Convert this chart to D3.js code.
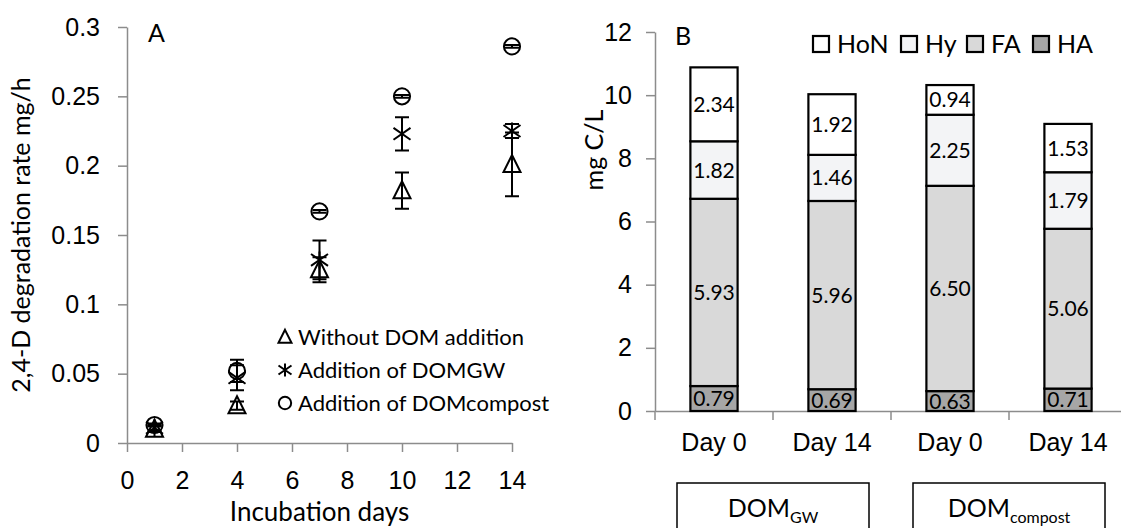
<!DOCTYPE html>
<html>
<head>
<meta charset="utf-8">
<script src="https://cdn.jsdelivr.net/npm/d3@7"></script>
<style>
  body { margin: 0; background: #fff; }
  svg { font-family: Lato, "Open Sans", sans-serif; }
  .axis path, .axis line { stroke: #8c8c8c; stroke-width: 1.5; }
  .axis text { fill: #000; font-size: 25px; }
</style>
</head>
<body>
<div id="chart"></div>
<script>
// panel A: 2,4-D degradation rate
const days = [1, 4, 7, 10, 14];
const rateNone = [0.010, 0.027, 0.125, 0.182, 0.201];
const errNone = [0.002, 0.003, 0.009, 0.013, 0.023];
const rateGW = [0.011, 0.047, 0.132, 0.223, 0.225];
const errGW = [0.002, 0.009, 0.014, 0.012, 0.005];
const rateCompost = [0.013, 0.052, 0.167, 0.250, 0.286];
const errCompost = [0.001, 0.008, 0.001, 0.001, 0.001];
const seriesNames = ["Without DOM addition", "Addition of DOMGW", "Addition of DOMcompost"];
const xTicksA = [0, 2, 4, 6, 8, 10, 12, 14];
const yTicksA = [0, 0.05, 0.1, 0.15, 0.2, 0.25, 0.3];

// panel B: DOM fractions
const barIds = ["gw0", "gw14", "c0", "c14"];
const barLabels = ["Day 0", "Day 14", "Day 0", "Day 14"];
const groups = ["GW", "compost"];
const fractions = ["HoN", "Hy", "FA", "HA"];
const haVals = [0.79, 0.69, 0.63, 0.71];
const faVals = [5.93, 5.96, 6.50, 5.06];
const hyVals = [1.82, 1.46, 2.25, 1.79];
const honVals = [2.34, 1.92, 0.94, 1.53];
const yTicksB = [0, 2, 4, 6, 8, 10, 12];

const W = 1121, H = 528;
const svg = d3.select("#chart").append("svg")
    .attr("width", W)
    .attr("height", H);

// ---------- panel A ----------
var xA = d3.scaleLinear().domain([0, 14]).range([127, 512]);
var yA = d3.scaleLinear().domain([0, 0.3]).range([443, 27]);

svg.append("g")
    .attr("class", "axis")
    .attr("transform", "translate(0," + yA(0) + ")")
    .call(d3.axisBottom(xA).tickValues(xTicksA).tickSize(9).tickSizeOuter(0).tickPadding(19));

svg.append("g")
    .attr("class", "axis")
    .attr("transform", "translate(" + xA(0) + ",0)")
    .call(d3.axisLeft(yA).tickValues(yTicksA).tickSize(9).tickSizeOuter(0).tickPadding(18)
        .tickFormat(d => d === 0 ? "0" : String(+d.toFixed(2))));

svg.append("text")
    .attr("x", (xA(0) + xA(14)) / 2)
    .attr("y", 521)
    .attr("text-anchor", "middle")
    .style("font-size", "26px")
    .text("Incubation days");

svg.append("text")
    .attr("transform", "translate(30," + (yA(0) + yA(0.3)) / 2 + ") rotate(-90)")
    .attr("text-anchor", "middle")
    .style("font-size", "25px")
    .text("2,4-D degradation rate mg/h");

svg.append("text")
    .attr("x", 148).attr("y", 42)
    .style("font-size", "25px")
    .text("A");

const series = [
    { vals: rateNone, err: errNone, shape: "tri" },
    { vals: rateGW, err: errGW, shape: "star" },
    { vals: rateCompost, err: errCompost, shape: "circ" }
];

function drawMarker(g, shape, size) {
    var s = size / 2;
    if (shape == "tri") {
        g.append("path").attr("d", "M0," + (-s * 1.1) + "L" + s + "," + (s * 0.9) + "L" + (-s) + "," + (s * 0.9) + "Z");
    } else if (shape == "star") {
        g.append("path").attr("d", "M0," + (-s) + "V" + s + "M" + (-s) + "," + (-s * 0.7) + "L" + s + "," + (s * 0.7) + "M" + (-s) + "," + (s * 0.7) + "L" + s + "," + (-s * 0.7));
    } else {
        g.append("circle").attr("r", s * 0.95);
    }
    g.selectAll("path, circle")
        .attr("fill", "none")
        .attr("stroke", "#000")
        .attr("stroke-width", 2);
}

series.forEach(function (sr) {
    // error bars
    days.forEach(function (d, i) {
        var lo = yA(sr.vals[i] - sr.err[i]), hi = yA(sr.vals[i] + sr.err[i]), cx = xA(d);
        svg.append("path")
            .attr("d", "M" + cx + "," + lo + "V" + hi + "M" + (cx - 7) + "," + lo + "H" + (cx + 7) + "M" + (cx - 7) + "," + hi + "H" + (cx + 7))
            .attr("fill", "none")
            .attr("stroke", "#000")
            .attr("stroke-width", 2);
    });
    days.forEach(function (d, i) {
        var g = svg.append("g").attr("transform", "translate(" + xA(d) + "," + yA(sr.vals[i]) + ")");
        drawMarker(g, sr.shape, 17);
    });
});

// legend A
seriesNames.forEach(function (name, i) {
    var ly = 337 + i * 33;
    var g = svg.append("g").attr("transform", "translate(285," + ly + ")");
    drawMarker(g, series[i].shape, 13);
    svg.append("text")
        .attr("x", 298).attr("y", ly)
        .attr("dy", "0.35em")
        .style("font-size", "22px")
        .text(name);
});

// ---------- panel B ----------
var yB = d3.scaleLinear().domain([0, 12]).range([411, 32]);
var xB = d3.scaleBand().domain(barIds).range([655, 1127]).paddingInner(0.6).paddingOuter(0.3);
var color = d3.scaleOrdinal().domain(fractions).range(["#ffffff", "#f3f4f6", "#d9d9d9", "#a6a6a6"]);

var rows = barIds.map(function (id, i) {
    return { id: id, HA: haVals[i], FA: faVals[i], Hy: hyVals[i], HoN: honVals[i] };
});
var stack = d3.stack().keys(["HA", "FA", "Hy", "HoN"])(rows);

svg.append("g")
    .attr("class", "axis")
    .attr("transform", "translate(655,0)")
    .call(d3.axisLeft(yB).tickValues(yTicksB).tickSize(9).tickSizeOuter(0).tickPadding(14));

// category axis with ticks between bars
var gx = svg.append("g")
    .attr("class", "axis")
    .attr("transform", "translate(0," + yB(0) + ")")
    .call(d3.axisBottom(xB).tickSize(0).tickSizeOuter(0).tickPadding(22)
        .tickFormat((d, i) => barLabels[i]));
var gap = (xB.step() - xB.bandwidth()) / 2;
var bounds = barIds.map(d => xB(d) - gap).concat([xB(barIds[3]) + xB.bandwidth() + gap]);
gx.selectAll(".sep").data(bounds).enter().append("line")
    .attr("class", "sep")
    .attr("x1", d => d).attr("x2", d => d)
    .attr("y1", 0).attr("y2", 9);

stack.forEach(function (layer) {
    var g = svg.append("g");
    g.selectAll("rect").data(layer).enter().append("rect")
        .attr("x", d => xB(d.data.id))
        .attr("width", xB.bandwidth())
        .attr("y", d => yB(d[1]))
        .attr("height", d => yB(d[0]) - yB(d[1]))
        .attr("fill", color(layer.key))
        .attr("stroke", "#000")
        .attr("stroke-width", 2.2);
});
stack.forEach(function (layer) {
    svg.append("g").selectAll("text").data(layer).enter().append("text")
        .attr("x", d => xB(d.data.id) + xB.bandwidth() / 2)
        .attr("y", d => (yB(d[0]) + yB(d[1])) / 2)
        .attr("dy", "0.36em")
        .attr("text-anchor", "middle")
        .style("font-size", "21px")
        .text(d => d3.format(".2f")(d[1] - d[0]));
});

svg.append("text")
    .attr("transform", "translate(603,150) rotate(-90)")
    .attr("text-anchor", "middle")
    .style("font-size", "25px")
    .text("mg C/L");

svg.append("text")
    .attr("x", 675).attr("y", 45)
    .style("font-size", "25px")
    .text("B");

// legend B
var legX = [813, 901, 967, 1033];
fractions.forEach(function (f, i) {
    svg.append("rect")
        .attr("x", legX[i]).attr("y", 36)
        .attr("width", 16).attr("height", 16)
        .attr("fill", color(f))
        .attr("stroke", "#000")
        .attr("stroke-width", 2.2);
    svg.append("text")
        .attr("x", legX[i] + 24).attr("y", 44)
        .attr("dy", "0.36em")
        .style("font-size", "25px")
        .text(f);
});

// group boxes under the category axis
groups.forEach(function (grp, i) {
    var mid = (xB(barIds[i * 2]) + xB(barIds[i * 2 + 1]) + xB.bandwidth()) / 2;
    svg.append("rect")
        .attr("x", mid - 96).attr("y", 483)
        .attr("width", 192).attr("height", 60)
        .attr("fill", "none")
        .attr("stroke", "#000")
        .attr("stroke-width", 1.5);
    var t = svg.append("text")
        .attr("x", mid).attr("y", 517)
        .attr("text-anchor", "middle")
        .style("font-size", "25px");
    t.append("tspan").text("DOM");
    t.append("tspan").attr("dy", 6).style("font-size", "16px").text(grp);
});
</script>
</body>
</html>
